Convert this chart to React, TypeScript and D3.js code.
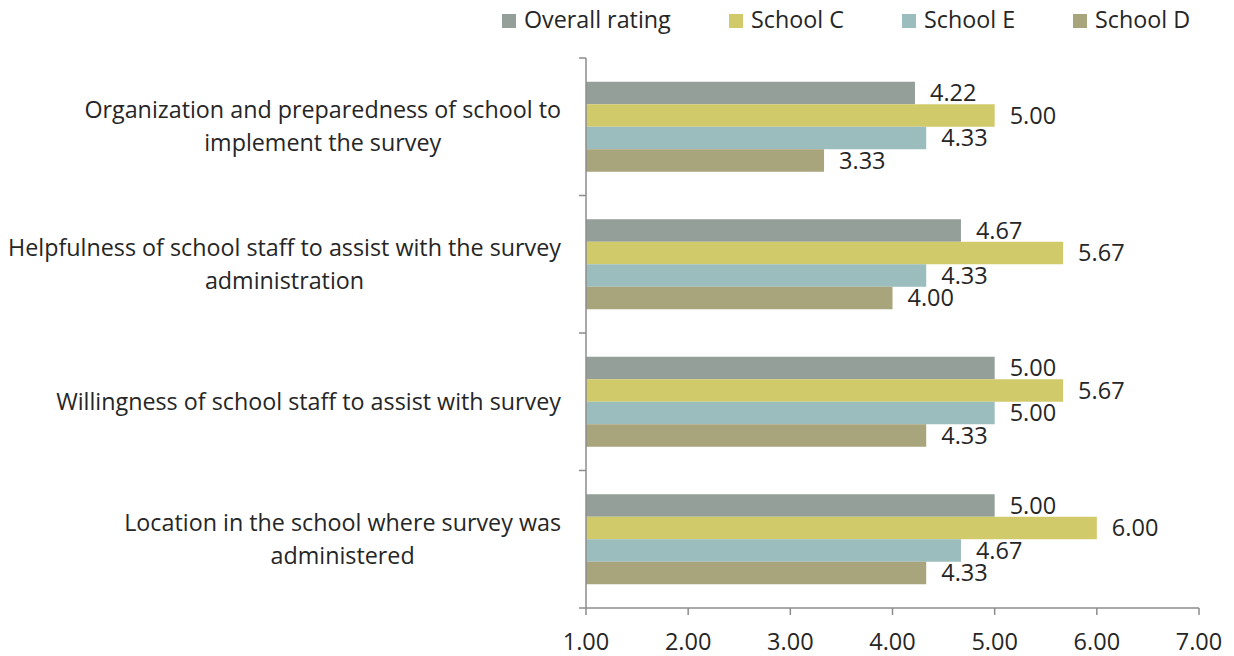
import React, { useEffect, useRef } from "react";
import * as d3 from "d3";

const categories: string[][] = [
  ["Organization and preparedness of school to", "implement the survey"],
  ["Helpfulness of school staff to assist with the survey", "administration"],
  ["Willingness of school staff to assist with survey"],
  ["Location in the school where survey was", "administered"],
];
const seriesNames = ["Overall rating", "School C", "School E", "School D"];
const seriesColors = ["#939f98", "#d1ca6b", "#9bbdbd", "#a8a47b"];
const overallRating = [4.22, 4.67, 5.0, 5.0];
const schoolC = [5.0, 5.67, 5.67, 6.0];
const schoolE = [4.33, 4.33, 5.0, 4.67];
const schoolD = [3.33, 4.0, 4.33, 4.33];
const seriesValues = [overallRating, schoolC, schoolE, schoolD];
const xTicks = [1, 2, 3, 4, 5, 6, 7];

const W = 1234;
const H = 656;
const FONT = "'Open Sans', sans-serif";
const TEXT = "#262626";
const AXIS = "#8c8c8c";
const LABEL_SIZE = 23.3;
const NUM_SIZE = 23.5;

export default function App() {
  const ref = useRef<SVGSVGElement | null>(null);
  useEffect(() => {
    const svg = d3.select(ref.current);
    svg.selectAll("*").remove();
    const left = 586, right = 1199, top = 58, bottom = 608;
    const x = d3.scaleLinear().domain([1, 7]).range([left, right]);
    const y = d3.scaleBand<number>().domain(d3.range(categories.length)).range([top, bottom]);
    const groupFrac = 90 / 137.5;
    const inner = d3.scaleBand<number>().domain(d3.range(seriesNames.length))
      .range([0, y.bandwidth() * groupFrac]);
    const groupOff = (y.bandwidth() * (1 - groupFrac)) / 2;

    const g = svg.append("g");
    // bars
    seriesValues.forEach((vals, si) => {
      vals.forEach((v, ci) => {
        const by = (y(ci) as number) + groupOff + (inner(si) as number);
        g.append("rect").attr("x", x(1)).attr("y", by)
          .attr("width", x(v) - x(1)).attr("height", inner.bandwidth())
          .attr("fill", seriesColors[si]);
        g.append("text").attr("x", x(v) + 15).attr("y", by + inner.bandwidth() / 2)
          .attr("dy", "0.35em").attr("font-family", FONT).attr("font-size", NUM_SIZE)
          .attr("fill", TEXT).text(v.toFixed(2));
      });
    });

    // y axis
    g.append("line").attr("x1", left).attr("x2", left).attr("y1", top).attr("y2", bottom)
      .attr("stroke", AXIS).attr("stroke-width", 1.5);
    [...d3.range(categories.length).map((i) => y(i) as number), bottom].forEach((yy) => {
      g.append("line").attr("x1", left - 7).attr("x2", left).attr("y1", yy).attr("y2", yy)
        .attr("stroke", AXIS).attr("stroke-width", 1.5);
    });
    // x axis
    g.append("line").attr("x1", left).attr("x2", right).attr("y1", bottom).attr("y2", bottom)
      .attr("stroke", AXIS).attr("stroke-width", 1.5);
    xTicks.forEach((t) => {
      g.append("line").attr("x1", x(t)).attr("x2", x(t)).attr("y1", bottom).attr("y2", bottom + 7)
        .attr("stroke", AXIS).attr("stroke-width", 1.5);
      g.append("text").attr("x", x(t)).attr("y", 650).attr("text-anchor", "middle")
        .attr("font-family", FONT).attr("font-size", NUM_SIZE).attr("fill", TEXT).text(t.toFixed(2));
    });

    // category labels
    const labelRight = 561;
    const lineH = 33;
    categories.forEach((lines, ci) => {
      const cy = (y(ci) as number) + y.bandwidth() / 2;
      const lg = g.append("g");
      const texts = lines.map((ln, li) =>
        lg.append("text").attr("y", cy + (li - (lines.length - 1) / 2) * lineH)
          .attr("dy", "0.35em").attr("text-anchor", "middle")
          .attr("font-family", FONT).attr("font-size", LABEL_SIZE).attr("fill", TEXT).text(ln)
      );
      const maxW = d3.max(texts, (t) => (t.node() as SVGTextElement).getComputedTextLength()) || 0;
      texts.forEach((t) => t.attr("x", labelRight - maxW / 2));
    });

    // legend
    const legendX = [502, 729, 902, 1073];
    seriesNames.forEach((n, i) => {
      g.append("rect").attr("x", legendX[i]).attr("y", 14).attr("width", 14).attr("height", 14)
        .attr("fill", seriesColors[i]);
      g.append("text").attr("x", legendX[i] + 22).attr("y", 20).attr("dy", "0.35em")
        .attr("font-family", FONT).attr("font-size", LABEL_SIZE).attr("fill", TEXT).text(n);
    });
  }, []);
  return (
    <svg ref={ref} width={W} height={H}
      style={{ position: "absolute", left: 0, top: 0, background: "#fff" }} />
  );
}
